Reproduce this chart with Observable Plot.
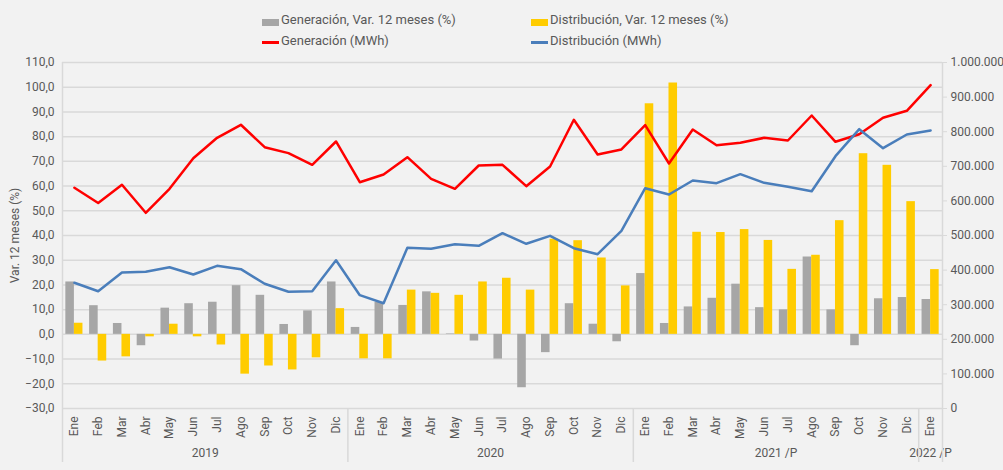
<!DOCTYPE html>
<html><head><meta charset="utf-8">
<script src="https://cdn.jsdelivr.net/npm/d3@7"></script>
<script src="https://cdn.jsdelivr.net/npm/@observablehq/plot@0.6"></script>
<style>
body{margin:0;background:#f2f2f2;font-family:Roboto,"DejaVu Sans",sans-serif;}
#wrap{position:relative;width:1003px;height:470px;background:#f2f2f2;overflow:hidden}
#legend{position:relative;height:52px}
.li{position:absolute;font-size:13px;color:#595959;display:flex;align-items:center;white-space:nowrap;line-height:16px}
.sw{display:inline-block;width:17px;margin-right:2px}
#chart svg{display:block}
</style></head><body>
<div id="wrap"><div id="legend"></div><div id="chart"></div></div>
<script>
// ---- data ----
const monthNames = ["Ene","Feb","Mar","Abr","May","Jun","Jul","Ago","Sep","Oct","Nov","Dic"];
const yearLabels = ["2019","2020","2021 /P","2022 /P"];
const yearMonths = [12, 12, 12, 1];

const genVar = [21.2, 11.6, 4.4, -4.6, 10.6, 12.4, 13.0, 19.7, 15.8, 4.0, 9.5, 21.2,
                2.8, 12.9, 11.7, 17.2, 0.2, -2.7, -10.0, -21.6, -7.4, 12.4, 4.1, -3.0,
                24.6, 4.4, 11.1, 14.6, 20.3, 10.8, 9.9, 31.3, 9.9, -4.6, 14.4, 14.9,
                14.1];
const distVar = [4.5, -10.8, -9.1, -1.0, 4.1, -1.0, -4.3, -16.1, -12.8, -14.4, -9.5, 10.4,
                 -9.9, -9.9, 17.9, 16.6, 15.8, 21.2, 22.7, 17.9, 38.5, 37.9, 30.9, 19.6,
                 93.3, 101.7, 41.3, 41.2, 42.4, 38.0, 26.3, 32.0, 46.0, 73.1, 68.4, 53.7,
                 26.2];
const genMWh = [638000, 594000, 646500, 565600, 635000, 723400, 782300, 820000, 755300, 738000, 704300, 771700,
                654000, 676300, 726300, 663800, 635000, 702300, 704300, 642500, 699400, 834400, 734100, 748600,
                818800, 708100, 806400, 761000, 767900, 782300, 774600, 846800, 770800, 792800, 840200, 860400,
                934400];
const distMWh = [363300, 339000, 393100, 395000, 408400, 387300, 412400, 402700, 360400, 337300, 339000, 428600,
                 327500, 304300, 464400, 461600, 474900, 470200, 506600, 476000, 499100, 463300, 446000, 513600,
                 636700, 618500, 659000, 651200, 677200, 652300, 640800, 628000, 729200, 807300, 752300, 791900,
                 803500];
const leftTicks = [-30, -20, -10, 0, 10, 20, 30, 40, 50, 60, 70, 80, 90, 100, 110];
const rightTicks = [0, 100000, 200000, 300000, 400000, 500000, 600000, 700000, 800000, 900000, 1000000];

const legendItems = [
  {label: "Generación, Var. 12 meses (%)", color: "#a6a6a6", type: "bar"},
  {label: "Distribución, Var. 12 meses (%)", color: "#ffcc00", type: "bar"},
  {label: "Generación (MWh)", color: "#ff0000", type: "line"},
  {label: "Distribución (MWh)", color: "#4a7ebb", type: "line"}
];

// ---- derived ----
const n = genVar.length;
const monthLabels = d3.range(n).map(i => monthNames[i % 12]);
const rows = d3.range(n).map(i => ({i, gen: genVar[i], dist: distVar[i], genM: genMWh[i], distM: distMWh[i]}));
const leftDom = [leftTicks[0], leftTicks[leftTicks.length - 1]];
const rightDom = [rightTicks[0], rightTicks[rightTicks.length - 1]];
const toLeft = v => leftDom[0] + (v - rightDom[0]) / (rightDom[1] - rightDom[0]) * (leftDom[1] - leftDom[0]);
const fromLeft = y => rightDom[0] + (y - leftDom[0]) / (leftDom[1] - leftDom[0]) * (rightDom[1] - rightDom[0]);
const loc = d3.formatLocale({decimal: ",", thousands: ".", grouping: [3], currency: ["", ""]});
const fmtInt = loc.format(",.0f");
const fmtPct = loc.format(".1f");

let start = 0;
const yearCenter = new Map();
const bounds = [-0.5];
yearMonths.forEach((m, k) => {
  yearCenter.set(start + (m - 1) / 2, yearLabels[k]);
  start += m;
  bounds.push(start - 0.5);
});
const bw = 0.36;
const font = "Roboto, 'DejaVu Sans', sans-serif";

// ---- legend ----
const lg = document.getElementById("legend");
const pos = [[262, 12], [531, 12], [262, 33], [531, 33]];
legendItems.forEach((it, k) => {
  const d = document.createElement("div");
  d.className = "li";
  d.style.left = pos[k][0] + "px";
  d.style.top = pos[k][1] + "px";
  const s = document.createElement("span");
  s.className = "sw";
  s.style.background = it.color;
  s.style.height = it.type === "bar" ? "7px" : "3px";
  s.style.marginTop = it.type === "bar" ? "4px" : "2px";
  d.appendChild(s);
  d.appendChild(document.createTextNode(it.label));
  lg.appendChild(d);
});

// ---- chart ----
const chart = Plot.plot({
  width: 1003, height: 418,
  marginLeft: 62, marginRight: 61, marginTop: 10, marginBottom: 62,
  style: {background: "transparent", color: "#595959", fontFamily: font, fontSize: "12px"},
  x: {type: "linear", domain: [-0.5, n - 0.5]},
  y: {domain: leftDom},
  marks: [
    Plot.gridY(leftTicks, {stroke: "#d9d9d9", strokeOpacity: 1, strokeWidth: 1.5}),
    Plot.ruleX([bounds[0], bounds[bounds.length - 1]], {stroke: "#d9d9d9", strokeWidth: 1.5}),
    Plot.rect(rows, {x1: d => d.i - bw, x2: d => d.i, y1: 0, y2: "gen", fill: "#a6a6a6"}),
    Plot.rect(rows, {x1: d => d.i, x2: d => d.i + bw, y1: 0, y2: "dist", fill: "#ffcc00"}),
    Plot.line(rows, {x: "i", y: d => toLeft(d.genM), stroke: "#ff0000", strokeWidth: 2.5}),
    Plot.line(rows, {x: "i", y: d => toLeft(d.distM), stroke: "#4a7ebb", strokeWidth: 2.5}),
    Plot.axisY(leftTicks, {anchor: "left", tickSize: 0, tickPadding: 8, tickFormat: fmtPct,
      label: "Var. 12 meses (%)", labelAnchor: "center", labelArrow: "none", labelOffset: 52, fill: "#595959"}),
    Plot.axisY(rightTicks.map(toLeft), {anchor: "right", tickSize: 4, tickPadding: 4, stroke: "#d9d9d9",
      tickFormat: d => fmtInt(Math.round(fromLeft(d))), label: null, fill: "#595959"}),
    Plot.axisX(d3.range(n), {anchor: "bottom", tickSize: 0, tickPadding: 8, tickRotate: -90,
      tickFormat: i => monthLabels[i], label: null, fill: "#595959"}),
    Plot.axisX([...yearCenter.keys()], {anchor: "bottom", tickSize: 0, tickPadding: 40,
      tickFormat: d => yearCenter.get(d), label: null, fill: "#595959"}),
    Plot.axisX(bounds, {anchor: "bottom", tickSize: 54, stroke: "#d9d9d9", strokeWidth: 1.5,
      tickFormat: () => "", label: null})
  ]
});
document.getElementById("chart").appendChild(chart);
</script>
</body></html>
